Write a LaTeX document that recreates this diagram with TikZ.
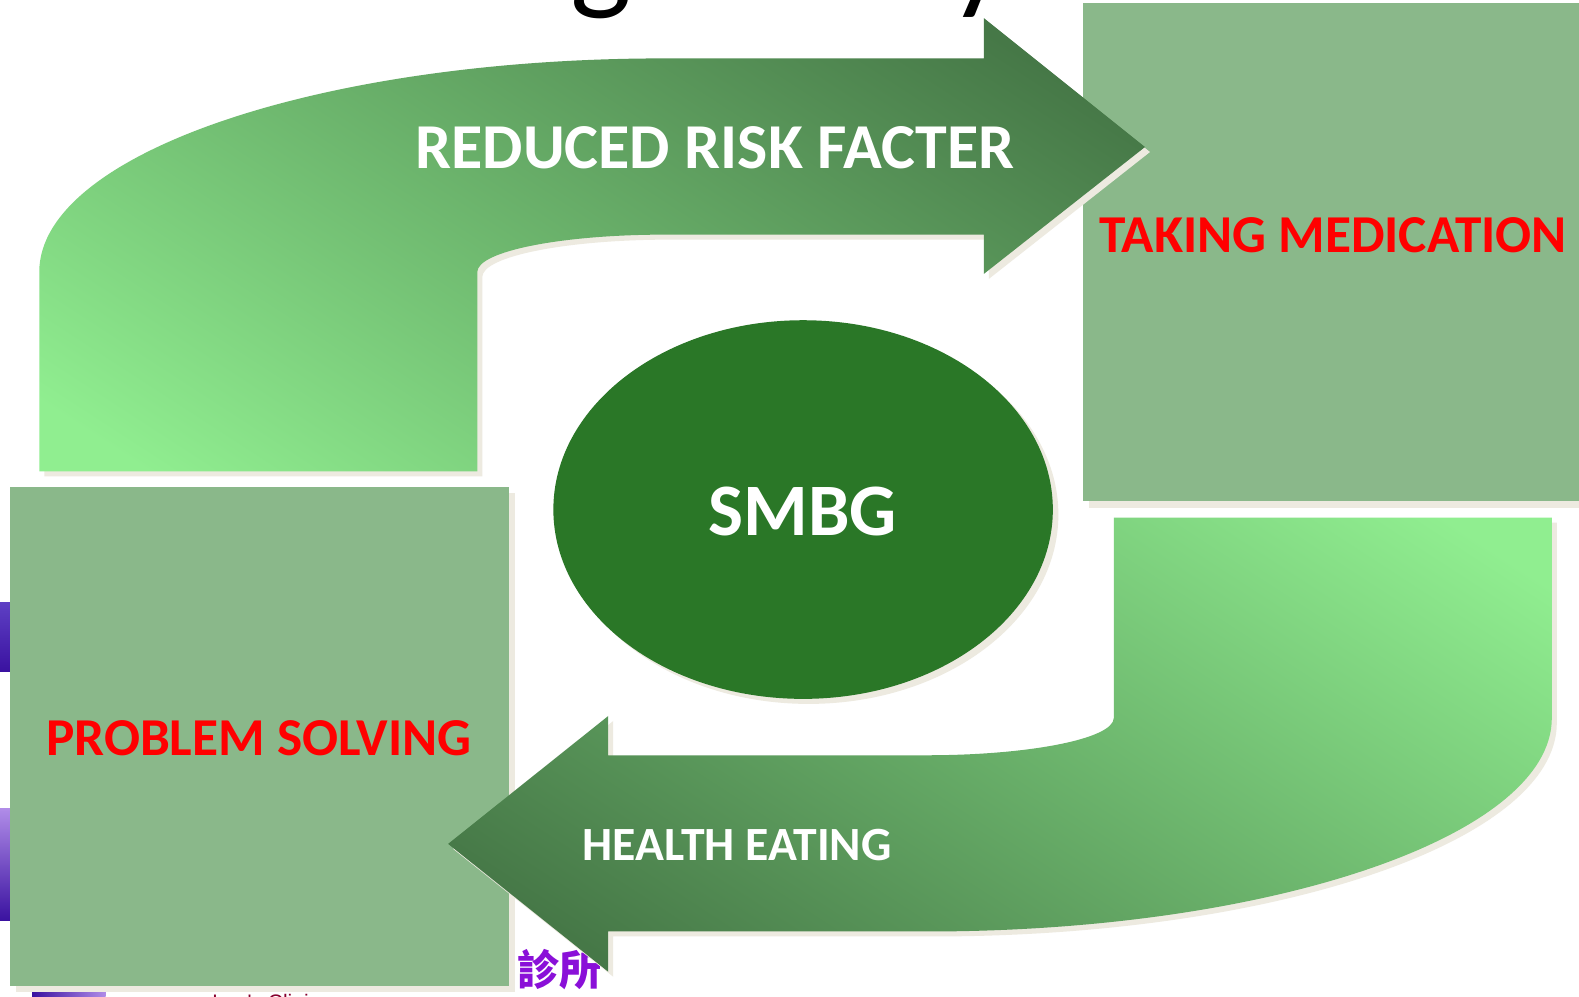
\documentclass[tikz,border=0pt]{standalone}
\usepackage{fontspec}
\setmainfont{Carlito}
\newfontfamily\cjkfont{Noto Sans CJK TC}
\newfontfamily\plainsans{Liberation Sans}
\definecolor{shadowc}{HTML}{EDEAE0}
\definecolor{boxc}{HTML}{8AB88A}
\definecolor{ellc}{HTML}{2A7727}
\definecolor{lightg}{HTML}{90EE90}
\definecolor{darkg}{HTML}{467847}
\definecolor{purp}{HTML}{8A10D8}
\definecolor{stripa}{HTML}{5E40C4}
\definecolor{stripb}{HTML}{3A12A0}
\definecolor{stripc}{HTML}{B08CE8}
\pgfdeclareverticalshading{lighttodark}{100bp}{color(0bp)=(lightg); color(38.5bp)=(lightg); color(60.5bp)=(darkg); color(100bp)=(darkg)}
\pgfdeclareverticalshading{darktolight}{100bp}{color(0bp)=(darkg); color(39.5bp)=(darkg); color(61.5bp)=(lightg); color(100bp)=(lightg)}
\tikzset{
  x=1.00702pt,y=-1.00702pt,
  shadowfill/.style={fill=shadowc,draw=none},
  boxfill/.style={fill=boxc,draw=none},
  boldlabel/.style={inner sep=0pt,text=white},
  redlabel/.style={font=\fontsize{53.3}{53.3}\selectfont\bfseries,inner sep=0pt,text=red},
}
\newcommand{\arrowone}{(39,468) -- (474,468) -- (474,270) .. controls (474,249.6) and (557.3,233) .. (660,233) -- (977,233) -- (977,272) -- (1137,146) -- (977,18) -- (977,58) -- (660,58) .. controls (317,58) and (39,153) .. (39,270) -- cycle}
\newcommand{\arrowtwo}{(1541,514) -- (1106,514) -- (1106,713) .. controls (1106,733.4) and (1023,750) .. (920,750) -- (604,750) -- (604,711) -- (445,838) -- (604,965) -- (604,925) -- (920,925) .. controls (1263,925) and (1541,830) .. (1541,713) -- cycle}
\begin{document}
\begin{tikzpicture}
\useasboundingbox (0,0) rectangle (1568,990);
\begin{scope}
\clip (0,0) rectangle (1568,990);
\fill[white] (0,0) rectangle (1568,990);
% remains of the slide behind
\node[font=\fontsize{130}{130}\selectfont,inner sep=0pt,anchor=base] (gletter) at (597,-3) {g};
\node[font=\fontsize{130}{130}\selectfont,inner sep=0pt,anchor=base] (yletter) at (972,-3) {y};
\shade[top color=stripa,bottom color=stripb] (0,598) rectangle (12,667);
\shade[top color=stripc,bottom color=stripb] (0,803) rectangle (12,914);
\shade[left color=stripb,right color=stripc] (32,985) rectangle (105,992);
\node[font=\cjkfont\fontsize{42}{42}\selectfont\bfseries,text=purp,inner sep=0pt] (clinic) at (556,963) {診所};
\node[font=\plainsans\fontsize{21}{21}\selectfont,text=purple!70!black,inner sep=0pt,anchor=base] (clinicen) at (264,1002) {Lee's Clinic};
% boxes
\fill[shadowfill] (16,490) rectangle (511,985);
\fill[shadowfill] (1081,9) rectangle (1575,504);
\fill[boxfill] (1075,3) rectangle (1575,498);
\fill[boxfill] (10,484) rectangle (505,979);
% shadows
\fill[shadowfill,xshift=5pt,yshift=-5pt] \arrowone;
\fill[shadowfill,xshift=5pt,yshift=-5pt] \arrowtwo;
\fill[shadowfill] (803,511) ellipse[x radius=248,y radius=188];
% arrows
\begin{scope}
\clip \arrowone;
\shade[shading=lighttodark,shading angle=-33] (-265,-640) rectangle (1615,1240);
\end{scope}
\begin{scope}
\clip \arrowtwo;
\shade[shading=darktolight,shading angle=-33] (-35,-258) rectangle (1845,1622);
\end{scope}
\fill[ellc] (797.5,506) ellipse[x radius=248,y radius=188];
\end{scope}
\node[boldlabel,font=\fontsize{64}{64}\selectfont\bfseries] (risk) at (710,147) {REDUCED RISK FACTER};
\node[boldlabel,font=\fontsize{47.7}{47.7}\selectfont\bfseries] (eating) at (732,839) {HEALTH EATING};
\node[boldlabel,font=\fontsize{74}{74}\selectfont\bfseries] (smbg) at (797,508) {SMBG};
\node[redlabel] (med) at (1324,234) {TAKING MEDICATION};
\node[redlabel] (prob) at (257,733) {PROBLEM SOLVING};
\end{tikzpicture}
\end{document}
